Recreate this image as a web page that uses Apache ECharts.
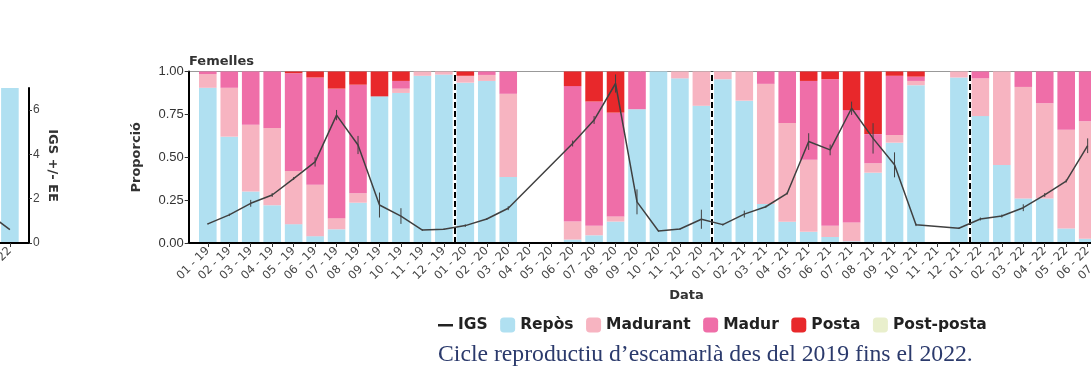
<!DOCTYPE html>
<html>
<head>
<meta charset="utf-8">
<script src="https://cdn.jsdelivr.net/npm/echarts@6/dist/echarts.min.js"></script>
<style>
  html, body { margin: 0; padding: 0; background: #fff; }
  #chart { width: 1091px; height: 367px; }
</style>
</head>
<body>
<div id="chart"></div>
<script>
// mesos (Femelles)
const categories = [
  '01 - 19', '02 - 19', '03 - 19', '04 - 19', '05 - 19', '06 - 19', '07 - 19', '08 - 19', '09 - 19', '10 - 19', '11 - 19', '12 - 19',
  '01 - 20', '02 - 20', '03 - 20', '04 - 20', '05 - 20', '06 - 20', '07 - 20', '08 - 20', '09 - 20', '10 - 20', '11 - 20', '12 - 20',
  '01 - 21', '02 - 21', '03 - 21', '04 - 21', '05 - 21', '06 - 21', '07 - 21', '08 - 21', '09 - 21', '10 - 21', '11 - 21', '12 - 21',
  '01 - 22', '02 - 22', '03 - 22', '04 - 22', '05 - 22', '06 - 22', '07 - 22'
];
const repos = [
  0.905, 0.62, 0.30, 0.22, 0.11, 0.04, 0.08, 0.235, 0.855, 0.875, 0.975, 0.982,
  0.935, 0.945, 0.385, null, null, 0.02, 0.045, 0.125, 0.78, 1.0, 0.96, 0.80,
  0.955, 0.83, 0.228, 0.124, 0.065, 0.035, 0.01, 0.41, 0.585, 0.92, null, 0.965,
  0.74, 0.455, 0.26, 0.26, 0.085, 0.025, null
];
const madurant = [
  0.08, 0.285, 0.39, 0.45, 0.31, 0.30, 0.065, 0.055, 0, 0.025, 0.025, 0.018,
  0.04, 0.035, 0.485, null, null, 0.105, 0.055, 0.03, 0, 0, 0.04, 0.20,
  0.045, 0.17, 0.70, 0.576, 0.42, 0.065, 0.11, 0.055, 0.045, 0.025, null, 0.035,
  0.22, 0.545, 0.65, 0.555, 0.575, 0.685, null
];
const madur = [
  0.015, 0.095, 0.31, 0.33, 0.57, 0.625, 0.755, 0.633, 0, 0.045, 0, 0,
  0, 0.02, 0.13, null, null, 0.79, 0.725, 0.605, 0.22, 0, 0, 0,
  0, 0, 0.072, 0.30, 0.46, 0.855, 0.655, 0.17, 0.345, 0.025, null, 0,
  0.04, 0, 0.09, 0.185, 0.34, 0.29, null
];
const posta = [
  0, 0, 0, 0, 0.01, 0.035, 0.10, 0.077, 0.145, 0.055, 0, 0,
  0.025, 0, 0, null, null, 0.085, 0.175, 0.24, 0, 0, 0, 0,
  0, 0, 0, 0, 0.055, 0.045, 0.225, 0.365, 0.025, 0.03, null, 0,
  0, 0, 0, 0, 0, 0, null
];
const postPosta = categories.map(() => 0);
// IGS i error estàndard
const igs = [
  0.78, 1.15, 1.62, 1.96, 2.63, 3.31, 5.22, 4.00, 1.55, 1.10, 0.53, 0.56,
  0.71, 0.98, 1.42, null, null, 4.06, 5.02, 6.51, 1.68, 0.49, 0.57, 0.97,
  0.75, 1.18, 1.48, 2.03, 4.14, 3.80, 5.50, 4.27, 3.19, 0.74, null, 0.60,
  0.98, 1.10, 1.44, 1.96, 2.53, 3.97, null
];
const igsEE = [
  0.03, 0.05, 0.14, 0.08, 0.06, 0.19, 0.21, 0.37, 0.51, 0.32, 0.03, 0.03,
  0.05, 0.04, 0.08, null, null, 0.12, 0.16, 0.37, 0.51, 0.03, 0.03, 0.39,
  0.04, 0.14, 0.04, 0.05, 0.34, 0.22, 0.27, 0.62, 0.51, 0.05, null, 0.03,
  0.06, 0.06, 0.14, 0.08, 0.06, 0.30, null
];
const yearBreaks = [11.5, 23.5, 35.5];
const propTicks = [0, 0.25, 0.5, 0.75, 1];

// panell esquerre (retallat)
const leftCategories = ['11 - 22', '12 - 22'];
const leftRepos = [null, 1.0];
const leftIgs = [1.33, 0.6];
const igsTicks = [0, 2, 4, 6];

const colors = {
  'Repòs': '#b0e0f1',
  'Madurant': '#f7b4c1',
  'Madur': '#ef6ea8',
  'Posta': '#e8282b',
  'Post-posta': '#e9efcc'
};

const BAND = 21.46, PAD = 0.89;
const xMax = 45.5;
const idx = categories.map((_, i) => i);
const tickFont = 'Liberation Sans';
const boldFont = 'DejaVu Sans';

// [valor, índex] perquè l'apilament es faci sobre el valor
function bars(arr) { return arr.map((v, i) => [v, i]); }
function points(arr) { return arr.map((v, i) => [i, v]).filter(d => d[1] != null); }

const stackNames = ['Repòs', 'Madurant', 'Madur', 'Posta', 'Post-posta'];
const stackData = [repos, madurant, madur, posta, postPosta];

const series = stackNames.map((name, k) => ({
  name: name,
  type: 'bar',
  stack: 'prop',
  xAxisIndex: 0,
  yAxisIndex: 0,
  barWidth: 17.6,
  encode: { x: 1, y: 0 },
  itemStyle: { color: colors[name] },
  data: bars(stackData[k]),
  markLine: k === 0 ? {
    silent: true,
    symbol: 'none',
    label: { show: false },
    lineStyle: { color: '#000', type: [6, 3], width: 2 },
    data: yearBreaks.map(x => ({ xAxis: x }))
  } : undefined
}));

series.push({
  name: 'IGS',
  type: 'line',
  xAxisIndex: 0,
  yAxisIndex: 1,
  symbol: 'none',
  lineStyle: { color: '#404040', width: 1.5 },
  itemStyle: { color: '#222' },
  data: points(igs),
  z: 5
});
series.push({
  name: 'EE',
  type: 'custom',
  xAxisIndex: 0,
  yAxisIndex: 1,
  data: igs.map((v, i) => [i, v, igsEE[i]]).filter(d => d[1] != null),
  renderItem: function (params, api) {
    const x = api.value(0), v = api.value(1), e = api.value(2);
    const a = api.coord([x, v - e]), b = api.coord([x, v + e]);
    return {
      type: 'line',
      shape: { x1: a[0], y1: a[1], x2: b[0], y2: b[1] },
      style: { stroke: '#404040', lineWidth: 1 }
    };
  },
  z: 6
});
// panell esquerre
series.push({
  name: 'Repòs',
  type: 'bar',
  stack: 'left',
  xAxisIndex: 1,
  yAxisIndex: 3,
  barWidth: 17.6,
  encode: { x: 1, y: 0 },
  itemStyle: { color: colors['Repòs'] },
  data: bars(leftRepos)
});
series.push({
  name: 'IGS',
  type: 'line',
  xAxisIndex: 1,
  yAxisIndex: 2,
  symbol: 'none',
  lineStyle: { color: '#404040', width: 1.5 },
  data: points(leftIgs)
});

const mainLeft = 188.7;
const option = {
  backgroundColor: '#fff',
  animation: false,
  title: [
    {
      text: 'Femelles',
      left: 184, top: 50,
      textStyle: { fontFamily: boldFont, fontWeight: 'bold', fontSize: 13, color: '#333' }
    },
    {
      text: 'Cicle reproductiu d’escamarlà des del 2019 fins el 2022.',
      left: 433, top: 338,
      textStyle: { fontFamily: 'Liberation Serif', fontWeight: 'normal', fontSize: 23.7, color: '#2b3a6c' }
    }
  ],
  legend: {
    left: 433, top: 312,
    itemWidth: 15, itemHeight: 15, itemGap: 12.5,
    selectedMode: false,
    textStyle: { fontFamily: boldFont, fontWeight: 'bold', fontSize: 15.5, color: '#222' },
    data: [
      { name: 'IGS', icon: 'path://M0,0 M0,15 M0,6.5 L15,6.5 L15,9 L0,9 Z', itemStyle: { color: '#222' } },
      'Repòs', 'Madurant', 'Madur', 'Posta', 'Post-posta'
    ]
  },
  grid: [
    {
      left: mainLeft, top: 71.5, height: 171.5,
      width: (xMax + PAD) * BAND,
      outerBoundsMode: 'none',
      show: true, borderColor: '#999', borderWidth: 1
    },
    {
      left: 29 - (1 + 2 * PAD) * BAND, top: 88, height: 155,
      width: (1 + 2 * PAD) * BAND,
      outerBoundsMode: 'none'
    }
  ],
  xAxis: [
    {
      type: 'value', gridIndex: 0, position: 'bottom', min: -PAD, max: xMax, z: 10,
      name: 'Data', nameLocation: 'middle', nameGap: 46,
      nameTextStyle: { fontFamily: boldFont, fontWeight: 'bold', fontSize: 13, color: '#333' },
      axisLine: { show: true, onZero: false, lineStyle: { color: '#000', width: 2 } },
      axisTick: { show: true, customValues: idx, length: 4, lineStyle: { color: '#333' } },
      axisLabel: {
        customValues: idx, rotate: 45, margin: 6,
        fontFamily: boldFont, fontSize: 11.5, color: '#444',
        formatter: v => categories[v]
      },
      splitLine: { show: false }
    },
    {
      type: 'value', gridIndex: 1, position: 'bottom', min: -PAD, max: 1 + PAD, z: 10,
      axisLine: { show: true, onZero: false, lineStyle: { color: '#000', width: 2 } },
      axisTick: { show: true, customValues: [0, 1], length: 4, lineStyle: { color: '#333' } },
      axisLabel: {
        customValues: [0, 1], rotate: 45, margin: 6,
        fontFamily: boldFont, fontSize: 11.5, color: '#444',
        formatter: v => leftCategories[v]
      },
      splitLine: { show: false }
    }
  ],
  yAxis: [
    {
      type: 'value', gridIndex: 0, position: 'left', offset: 0, min: 0, max: 1, z: 10,
      name: 'Proporció', nameLocation: 'middle', nameGap: 46, nameRotate: 90,
      nameTextStyle: { fontFamily: boldFont, fontWeight: 'bold', fontSize: 13, color: '#333' },
      axisLine: { show: true, onZero: false, lineStyle: { color: '#000', width: 2 } },
      axisTick: { show: true, customValues: propTicks, length: 4, lineStyle: { color: '#333' } },
      axisLabel: {
        customValues: propTicks, margin: 5,
        fontFamily: tickFont, fontSize: 13, color: '#333',
        formatter: v => v.toFixed(2)
      },
      splitLine: { show: false }
    },
    { type: 'value', gridIndex: 0, position: 'right', min: 0, max: 7, show: false },
    {
      type: 'value', gridIndex: 1, position: 'right', min: 0, max: 7, z: 10,
      name: 'IGS +/- EE', nameLocation: 'middle', nameGap: 17, nameRotate: -90,
      nameTextStyle: { fontFamily: boldFont, fontWeight: 'bold', fontSize: 13, color: '#333' },
      axisLine: { show: true, onZero: false, lineStyle: { color: '#000', width: 2 } },
      axisTick: { show: true, customValues: igsTicks, length: 3, lineStyle: { color: '#333' } },
      axisLabel: {
        customValues: igsTicks, margin: 4,
        fontFamily: tickFont, fontSize: 12, color: '#444'
      },
      splitLine: { show: false }
    },
    { type: 'value', gridIndex: 1, position: 'left', min: 0, max: 1, show: false }
  ],
  series: series
};

const chart = echarts.init(document.getElementById('chart'));
chart.setOption(option);
window.addEventListener('resize', () => chart.resize());
</script>
</body>
</html>
